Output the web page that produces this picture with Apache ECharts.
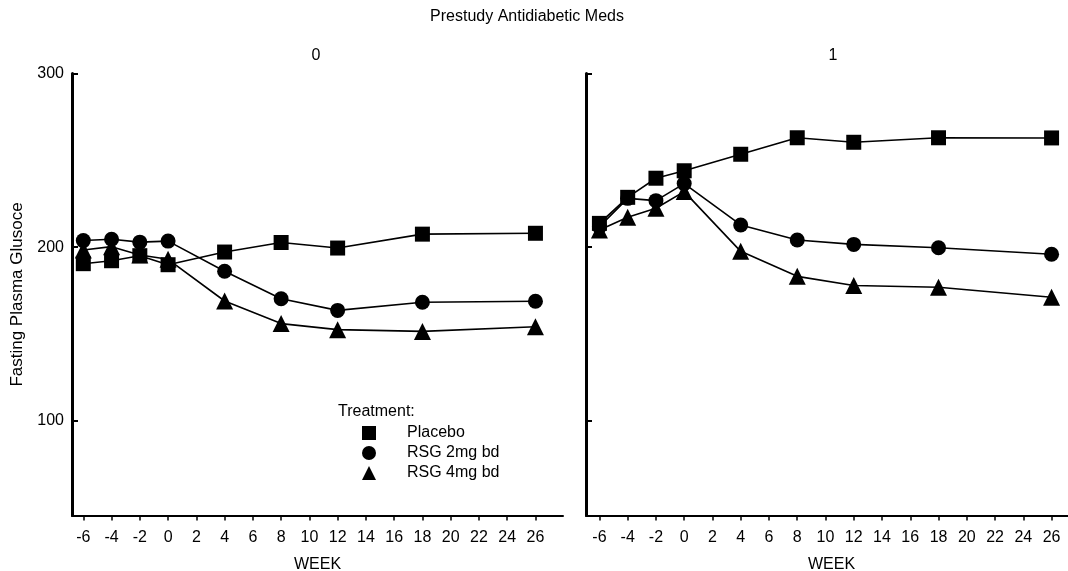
<!DOCTYPE html>
<html>
<head>
<meta charset="utf-8">
<script src="https://cdn.jsdelivr.net/npm/echarts@6/dist/echarts.min.js"></script>
<style>
html,body{margin:0;padding:0;background:#fff;}
#chart{width:1068px;height:571px;}
</style>
</head>
<body>
<div id="chart"></div>
<script>
const weeks = [-6, -4, -2, 0, 4, 8, 12, 18, 26];
const xTickValues = [-6, -4, -2, 0, 2, 4, 6, 8, 10, 12, 14, 16, 18, 20, 22, 24, 26];
const yTickValues = [100, 200, 300];
const panelLabels = ['0', '1'];
const seriesNames = ['Placebo', 'RSG 2mg bd', 'RSG 4mg bd'];

const panel0Placebo = [190.5, 192.2, 195.1, 189.9, 197.2, 202.7, 199.5, 207.5, 208.0];
const panel0Rsg2 = [203.8, 204.6, 202.9, 203.5, 186.1, 170.3, 163.6, 168.3, 168.9];
const panel0Rsg4 = [198.4, 200.3, 195.5, 193.0, 169.0, 156.0, 152.5, 151.5, 154.2];

const panel1Placebo = [213.7, 228.7, 239.7, 244.0, 253.5, 263.0, 260.4, 263.0, 262.9];
const panel1Rsg2 = [211.8, 228.1, 226.8, 236.6, 212.8, 204.1, 201.6, 199.7, 195.9];
const panel1Rsg4 = [209.9, 217.2, 222.4, 232.0, 197.6, 183.2, 177.9, 176.9, 171.2];

const FONT = "'Liberation Sans', Arial, sans-serif";
const pairs = vals => weeks.map((w, i) => [w, vals[i]]);

const symbols = { 'Placebo': ['rect', 15], 'RSG 2mg bd': ['circle', 15], 'RSG 4mg bd': ['triangle', 17] };

function mkSeries(name, vals, idx) {
  return {
    type: 'line', name: name, xAxisIndex: idx, yAxisIndex: idx,
    data: pairs(vals),
    symbol: symbols[name][0], symbolSize: symbols[name][1],
    showAllSymbol: true,
    lineStyle: { color: '#000', width: 1.6 },
    itemStyle: { color: '#000' },
    emphasis: { disabled: true },
    animation: false
  };
}

function xAxis(idx, min, max) {
  return {
    type: 'value', gridIndex: idx, min: min, max: max,
    name: 'WEEK', nameLocation: 'middle', nameGap: 41,
    nameTextStyle: { fontFamily: FONT, fontSize: 16, color: '#000' },
    axisLine: { show: true, onZero: false, lineStyle: { color: '#000', width: 2 } },
    axisTick: { show: true, length: 5, lineStyle: { color: '#000', width: 1.5 }, customValues: xTickValues },
    axisLabel: { show: true, margin: 14, fontFamily: FONT, fontSize: 16, color: '#000', customValues: xTickValues },
    splitLine: { show: false }
  };
}

function yAxis(idx, showLabels) {
  return {
    type: 'value', gridIndex: idx, min: 45.5, max: 300,
    name: showLabels ? 'Fasting Plasma Glusoce' : '', nameLocation: 'middle', nameGap: 46, nameRotate: 90,
    nameTextStyle: { fontFamily: FONT, fontSize: 17, color: '#000' },
    axisLine: { show: true, onZero: false, lineStyle: { color: '#000', width: 3 } },
    axisTick: { show: true, inside: true, length: 6, lineStyle: { color: '#000', width: 2 }, customValues: yTickValues },
    axisLabel: { show: showLabels, margin: 8, fontFamily: FONT, fontSize: 16, color: '#000', customValues: yTickValues },
    splitLine: { show: false }
  };
}

const titleText = { fontFamily: FONT, fontSize: 16, fontWeight: 'normal', color: '#000' };

const chart = echarts.init(document.getElementById('chart'), null, { renderer: 'canvas' });
chart.setOption({
  backgroundColor: '#fff',
  animation: false,
  title: [
    { text: 'Prestudy Antidiabetic Meds', left: 527, top: 9, textAlign: 'center', padding: 0, textStyle: titleText },
    { text: panelLabels[0], left: 316, top: 48, textAlign: 'center', padding: 0, textStyle: titleText },
    { text: panelLabels[1], left: 833, top: 48, textAlign: 'center', padding: 0, textStyle: titleText },
    { text: 'Treatment:', left: 338, top: 404, padding: 0, textStyle: titleText }
  ],
  legend: {
    orient: 'vertical', left: 362, top: 425, padding: 0,
    itemWidth: 14, itemHeight: 14, itemGap: 4,
    selectedMode: false,
    data: [
      { name: seriesNames[0], icon: 'rect' },
      { name: seriesNames[1], icon: 'circle' },
      { name: seriesNames[2], icon: 'triangle' }
    ],
    textStyle: { fontFamily: FONT, fontSize: 16, color: '#000', padding: [0, 0, 0, 26] }
  },
  grid: [
    { left: 72, top: 73.5, width: 491, height: 442, outerBoundsMode: 'none', containLabel: false },
    { left: 586, top: 73.5, width: 491, height: 442, outerBoundsMode: 'none', containLabel: false }
  ],
  xAxis: [xAxis(0, -6.8, 27.95), xAxis(1, -6.95, 27.8)],
  yAxis: [yAxis(0, true), yAxis(1, false)],
  series: [
    mkSeries(seriesNames[2], panel0Rsg4, 0),
    mkSeries(seriesNames[1], panel0Rsg2, 0),
    mkSeries(seriesNames[0], panel0Placebo, 0),
    mkSeries(seriesNames[2], panel1Rsg4, 1),
    mkSeries(seriesNames[1], panel1Rsg2, 1),
    mkSeries(seriesNames[0], panel1Placebo, 1)
  ]
});
</script>
</body>
</html>
